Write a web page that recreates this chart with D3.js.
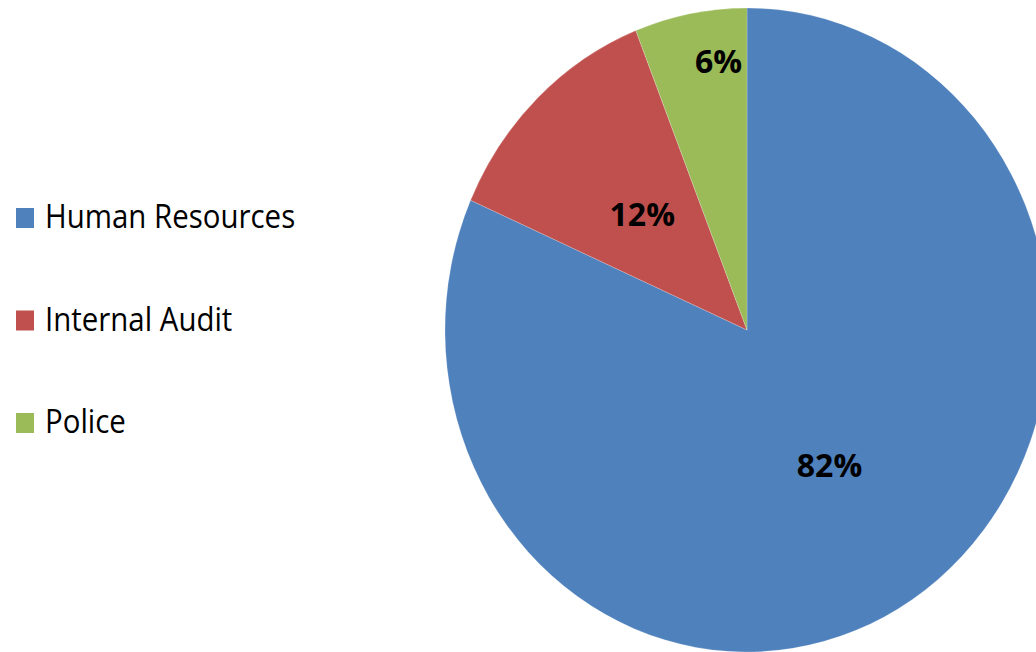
<!DOCTYPE html>
<html>
<head>
<meta charset="utf-8">
<script src="https://cdn.jsdelivr.net/npm/d3@7"></script>
<style>
  body { margin: 0; background: #fff; }
  svg { display: block; }
</style>
</head>
<body>
<svg id="chart"></svg>
<script>
var width = 1036
var height = 652

// data
var departments = ["Human Resources", "Internal Audit", "Police"]
var shares = [81.6, 12.4, 6.0]
var sliceColors = ["#4F81BD", "#C0504D", "#9BBB59"]

// pie sits partly off the right edge and is a bit squashed sideways
var cx = 747, cy = 330
var radius = 322
var squash = 302 / 322

var svg = d3.select("#chart")
  .attr("width", width)
  .attr("height", height)

var color = d3.scaleOrdinal().domain(departments).range(sliceColors)

var pie = d3.pie().sort(null).value(function(d){ return d.value })
var slices = pie(departments.map(function(name, i){ return {name: name, value: shares[i]} }))

var arc = d3.arc().innerRadius(0).outerRadius(radius)

var pieG = svg.append("g")
  .attr("transform", "translate(" + cx + "," + cy + ")")

pieG.append("g")
  .attr("transform", "scale(" + squash + ",1)")
  .selectAll("path")
  .data(slices)
  .enter()
  .append("path")
    .attr("d", arc)
    .attr("fill", function(d){ return color(d.data.name) })
    .attr("stroke", "#fff")
    .attr("stroke-opacity", 0.35)
    .attr("stroke-width", 0.6)

// percentage labels
var total = d3.sum(shares)
var labelArc = d3.arc().innerRadius(radius * 0.5).outerRadius(radius * 0.5)
var smallArc = d3.arc().innerRadius(radius * 0.85).outerRadius(radius * 0.85)

pieG.selectAll("text.pct")
  .data(slices)
  .enter()
  .append("text")
    .attr("class", "pct")
    .attr("font-family", "'Open Sans', sans-serif")
    .attr("font-weight", "bold")
    .attr("font-size", 32)
    .attr("fill", "#000")
    .attr("text-anchor", function(d){ return d.data.value < 10 ? "end" : "middle" })
    .attr("transform", function(d){
      var p
      if (d.data.value < 10) {
        // small slice: push out and tuck it against the slice's end edge
        var c = smallArc.centroid(d)
        p = [Math.sin(d.endAngle) * radius * 0.85 * squash - 5, c[1]]
      } else {
        var c2 = labelArc.centroid(d)
        p = [c2[0] * squash, c2[1]]
      }
      return "translate(" + p[0] + "," + (p[1] + 12) + ") scale(1.0,1)"
    })
    .text(function(d){ return Math.round(100 * d.data.value / total) + "%" })

// legend
var legend = svg.append("g")
  .selectAll("g")
  .data(departments)
  .enter()
  .append("g")
    .attr("transform", function(d, i){ return "translate(16," + (228 + i * 102.5) + ")" })

legend.append("rect")
  .attr("x", 0)
  .attr("y", -20)
  .attr("width", 18)
  .attr("height", 20)
  .attr("fill", function(d){ return color(d) })

legend.append("text")
  .attr("transform", "translate(29,0) scale(0.92,1)")
  .attr("font-family", "'Open Sans', sans-serif")
  .attr("font-size", 32)
  .attr("fill", "#000")
  .text(function(d){ return d })
</script>
</body>
</html>
